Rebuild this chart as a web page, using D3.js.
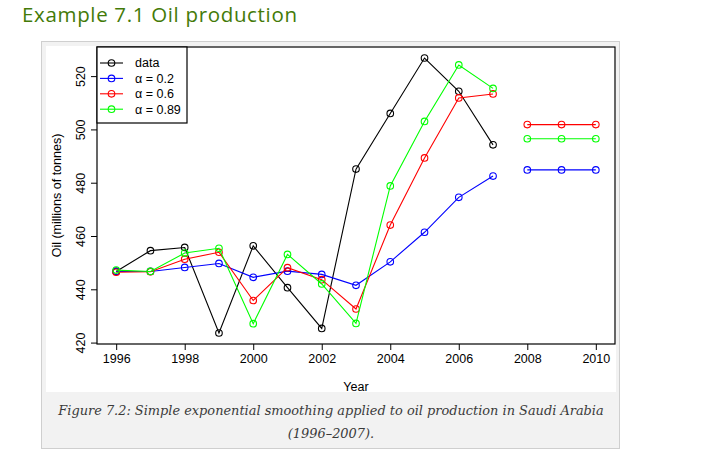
<!DOCTYPE html>
<html>
<head>
<meta charset="utf-8">
<script src="https://cdn.jsdelivr.net/npm/d3@7"></script>
<style>
  html, body { margin: 0; padding: 0; background: #ffffff; }
  svg { display: block; }
</style>
</head>
<body>
<svg id="chart" width="711" height="452"></svg>
<script>
// ---- data ----
const years = [1996, 1997, 1998, 1999, 2000, 2001, 2002, 2003, 2004, 2005, 2006, 2007];
const oil   = [446.7, 454.5, 455.7, 423.6, 456.3, 440.6, 425.3, 485.1, 506.0, 526.8, 514.3, 494.2];
const fit02  = [446.7, 446.7, 448.2, 449.7, 444.5, 446.8, 445.6, 441.5, 450.3, 461.4, 474.5, 482.5];
const fit06  = [446.4, 446.6, 451.3, 453.9, 435.8, 448.1, 443.6, 432.6, 464.1, 489.3, 511.8, 513.3];
const fit089 = [447.2, 446.7, 453.6, 455.4, 427.1, 453.1, 442.0, 427.2, 478.8, 503.0, 524.2, 515.4];
const fcYears = [2008, 2009, 2010];
const fc02  = [484.8, 484.8, 484.8];
const fc06  = [501.8, 501.8, 501.8];
const fc089 = [496.5, 496.5, 496.5];
const xTicks = [1996, 1998, 2000, 2002, 2004, 2006, 2008, 2010];
const yTicks = [420, 440, 460, 480, 500, 520];
const legendLabels = ["data", "\u03b1 = 0.2", "\u03b1 = 0.6", "\u03b1 = 0.89"];
const seriesColors = ["#000000", "#0000ff", "#ff0000", "#00ff00"];

const svg = d3.select("#chart");
const font = "'Liberation Sans', Arial, Helvetica, sans-serif";

// page title
const title = svg.append("text")
  .attr("x", 22).attr("y", 22)
  .attr("font-family", "'Open Sans', 'Noto Sans', sans-serif")
  .attr("font-size", 20.5)
  .attr("fill", "#437a08")
  .text("Example 7.1 Oil production");
const tw = title.node().getComputedTextLength();
const nChars = "Example 7.1 Oil production".length;
title.attr("letter-spacing", Math.max(0, (275 - tw) / (nChars - 1)));

// figure container
svg.append("rect")
  .attr("x", 41.5).attr("y", 41.5).attr("width", 578).attr("height", 407)
  .attr("fill", "#f2f2f2").attr("stroke", "#cfcfcf");
svg.append("rect")
  .attr("x", 46).attr("y", 46).attr("width", 570).attr("height", 346)
  .attr("fill", "#ffffff");

// plot region
const pLeft = 97, pRight = 615, pTop = 47, pBottom = 344;
const yMin = d3.min(oil), yMax = d3.max(oil);
const yPad = (yMax - yMin) * 0.04;
const x = d3.scaleLinear().domain([1996 - 0.56, 2010 + 0.56]).range([pLeft, pRight]);
const y = d3.scaleLinear().domain([yMin - yPad, yMax + yPad]).range([pBottom, pTop]);

// axes
const xAxis = svg.append("g")
  .attr("transform", `translate(0,${pBottom})`)
  .call(d3.axisBottom(x).tickValues(xTicks).tickFormat(d3.format("d")).tickSize(6).tickPadding(4));
xAxis.select(".domain").remove();
xAxis.selectAll("line").attr("stroke", "#000");
xAxis.selectAll("text").attr("font-family", font).attr("font-size", 12.5).attr("fill", "#000")
  .attr("dy", null).attr("y", 19);

const yAxis = svg.append("g")
  .attr("transform", `translate(${pLeft},0)`)
  .call(d3.axisLeft(y).tickValues(yTicks).tickSize(6));
yAxis.select(".domain").remove();
yAxis.selectAll("line").attr("stroke", "#000");
yAxis.selectAll("text").attr("font-family", font).attr("font-size", 12.5).attr("fill", "#000")
  .attr("x", null).attr("dy", null)
  .attr("text-anchor", "middle")
  .attr("transform", "translate(-12,0) rotate(-90)");

// axis titles
svg.append("text")
  .attr("x", (pLeft + pRight) / 2).attr("y", 391)
  .attr("text-anchor", "middle")
  .attr("font-family", font).attr("font-size", 12.5)
  .text("Year");
svg.append("text")
  .attr("transform", `translate(61,${(pTop + pBottom) / 2}) rotate(-90)`)
  .attr("text-anchor", "middle")
  .attr("font-family", font).attr("font-size", 12.5)
  .text("Oil (millions of tonnes)");

// series
const line = d3.line().x(d => x(d[0])).y(d => y(d[1]));
function drawSeries(xs, vals, color) {
  const pts = xs.map((v, i) => [v, vals[i]]);
  svg.append("path").datum(pts)
    .attr("d", line).attr("fill", "none")
    .attr("stroke", color).attr("stroke-width", 1.1);
  svg.append("g").selectAll("circle").data(pts).join("circle")
    .attr("cx", d => x(d[0])).attr("cy", d => y(d[1]))
    .attr("r", 3.3).attr("fill", "none")
    .attr("stroke", color).attr("stroke-width", 1.1);
}
drawSeries(years, oil, seriesColors[0]);
drawSeries(years, fit02, seriesColors[1]);
drawSeries(years, fit06, seriesColors[2]);
drawSeries(years, fit089, seriesColors[3]);
drawSeries(fcYears, fc02, seriesColors[1]);
drawSeries(fcYears, fc06, seriesColors[2]);
drawSeries(fcYears, fc089, seriesColors[3]);

// box
svg.append("rect")
  .attr("x", pLeft).attr("y", pTop).attr("width", pRight - pLeft).attr("height", pBottom - pTop)
  .attr("fill", "none").attr("stroke", "#000").attr("stroke-width", 1.2);

// legend
const lg = svg.append("g");
lg.append("rect")
  .attr("x", pLeft).attr("y", pTop).attr("width", 90).attr("height", 76)
  .attr("fill", "#fff").attr("stroke", "#000").attr("stroke-width", 1.2);
legendLabels.forEach((lab, i) => {
  const yy = 63 + i * 15.4;
  lg.append("line").attr("x1", 100).attr("x2", 123).attr("y1", yy).attr("y2", yy)
    .attr("stroke", seriesColors[i]).attr("stroke-width", 1.1);
  lg.append("circle").attr("cx", 111.5).attr("cy", yy).attr("r", 3.3)
    .attr("fill", "none").attr("stroke", seriesColors[i]).attr("stroke-width", 1.1);
  lg.append("text").attr("x", 135).attr("y", yy + 4.4)
    .attr("font-family", font).attr("font-size", 12.5).text(lab);
});

// caption
const capFont = "'DejaVu Serif', 'Liberation Serif', serif";
const cap1 = svg.append("text")
  .attr("x", 331).attr("y", 415)
  .attr("text-anchor", "middle")
  .attr("font-family", capFont).attr("font-style", "italic")
  .attr("font-size", 13).attr("fill", "#3a3a3a")
  .text("Figure 7.2: Simple exponential smoothing applied to oil production in Saudi Arabia");
const w = cap1.node().getComputedTextLength();
const fs = 13 * 546 / w;
cap1.attr("font-size", fs);
svg.append("text")
  .attr("x", 331).attr("y", 438)
  .attr("text-anchor", "middle")
  .attr("font-family", capFont).attr("font-style", "italic")
  .attr("font-size", fs).attr("fill", "#3a3a3a")
  .text("(1996\u20132007).");
</script>
</body>
</html>
